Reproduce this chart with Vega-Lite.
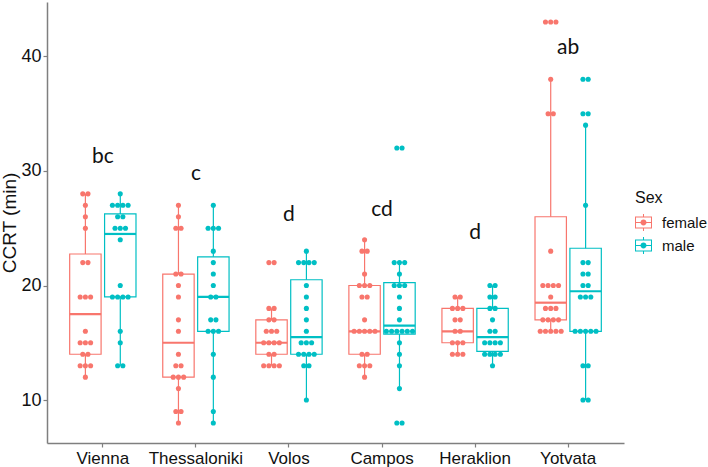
{
  "$schema": "https://vega.github.io/schema/vega-lite/v6.json",
  "width": 577,
  "height": 441,
  "autosize": {"type": "none"},
  "padding": {"left": 47, "top": 2, "right": 84, "bottom": 24},
  "config": {
    "font": "Liberation Sans",
    "view": {"stroke": null},
    "axis": {"grid": false, "domainColor": "#7f7f7f", "domainWidth": 1.5, "tickColor": "#7f7f7f", "tickSize": 4, "tickWidth": 1.2, "labelColor": "#111111", "labelFontSize": 17, "titleColor": "#111111", "titleFontWeight": "normal"},
    "legend": {"orient": "none", "legendX": 588, "legendY": 188, "titleFontSize": 16, "titleFontWeight": "normal", "titleColor": "#111111", "labelFontSize": 15, "labelColor": "#111111", "titlePadding": 8, "rowPadding": 6, "labelOffset": 10, "symbolSize": 289, "symbolStrokeWidth": 0, "symbolOpacity": 1}
  },
  "datasets": {
    "letters": [
      {"loc": "Vienna", "letter": "bc", "ccrt": 30.7},
      {"loc": "Thessaloniki", "letter": "c", "ccrt": 29.2},
      {"loc": "Volos", "letter": "d", "ccrt": 25.6},
      {"loc": "Campos", "letter": "cd", "ccrt": 26.1},
      {"loc": "Heraklion", "letter": "d", "ccrt": 24.1},
      {"loc": "Yotvata", "letter": "ab", "ccrt": 40.2}
    ]
  },
  "data": {"values": [
    {"loc":"Vienna","sex":"female","ccrt":12},{"loc":"Vienna","sex":"female","ccrt":13},{"loc":"Vienna","sex":"female","ccrt":13},{"loc":"Vienna","sex":"female","ccrt":13},{"loc":"Vienna","sex":"female","ccrt":14},{"loc":"Vienna","sex":"female","ccrt":14},{"loc":"Vienna","sex":"female","ccrt":15},{"loc":"Vienna","sex":"female","ccrt":15},{"loc":"Vienna","sex":"female","ccrt":15},{"loc":"Vienna","sex":"female","ccrt":16},{"loc":"Vienna","sex":"female","ccrt":19},{"loc":"Vienna","sex":"female","ccrt":19},{"loc":"Vienna","sex":"female","ccrt":19},{"loc":"Vienna","sex":"female","ccrt":22},{"loc":"Vienna","sex":"female","ccrt":22},{"loc":"Vienna","sex":"female","ccrt":25},{"loc":"Vienna","sex":"female","ccrt":26},{"loc":"Vienna","sex":"female","ccrt":27},{"loc":"Vienna","sex":"female","ccrt":28},{"loc":"Vienna","sex":"female","ccrt":28},
    {"loc":"Vienna","sex":"male","ccrt":13},{"loc":"Vienna","sex":"male","ccrt":13},{"loc":"Vienna","sex":"male","ccrt":15},{"loc":"Vienna","sex":"male","ccrt":16},{"loc":"Vienna","sex":"male","ccrt":19},{"loc":"Vienna","sex":"male","ccrt":19},{"loc":"Vienna","sex":"male","ccrt":19},{"loc":"Vienna","sex":"male","ccrt":19},{"loc":"Vienna","sex":"male","ccrt":20},{"loc":"Vienna","sex":"male","ccrt":24},{"loc":"Vienna","sex":"male","ccrt":25},{"loc":"Vienna","sex":"male","ccrt":25},{"loc":"Vienna","sex":"male","ccrt":25},{"loc":"Vienna","sex":"male","ccrt":26},{"loc":"Vienna","sex":"male","ccrt":26},{"loc":"Vienna","sex":"male","ccrt":27},{"loc":"Vienna","sex":"male","ccrt":27},{"loc":"Vienna","sex":"male","ccrt":27},{"loc":"Vienna","sex":"male","ccrt":27},{"loc":"Vienna","sex":"male","ccrt":28},
    {"loc":"Thessaloniki","sex":"female","ccrt":8},{"loc":"Thessaloniki","sex":"female","ccrt":9},{"loc":"Thessaloniki","sex":"female","ccrt":9},{"loc":"Thessaloniki","sex":"female","ccrt":11},{"loc":"Thessaloniki","sex":"female","ccrt":12},{"loc":"Thessaloniki","sex":"female","ccrt":12},{"loc":"Thessaloniki","sex":"female","ccrt":12},{"loc":"Thessaloniki","sex":"female","ccrt":13},{"loc":"Thessaloniki","sex":"female","ccrt":13},{"loc":"Thessaloniki","sex":"female","ccrt":14},{"loc":"Thessaloniki","sex":"female","ccrt":16},{"loc":"Thessaloniki","sex":"female","ccrt":17},{"loc":"Thessaloniki","sex":"female","ccrt":19},{"loc":"Thessaloniki","sex":"female","ccrt":20},{"loc":"Thessaloniki","sex":"female","ccrt":21},{"loc":"Thessaloniki","sex":"female","ccrt":21},{"loc":"Thessaloniki","sex":"female","ccrt":25},{"loc":"Thessaloniki","sex":"female","ccrt":25},{"loc":"Thessaloniki","sex":"female","ccrt":26},{"loc":"Thessaloniki","sex":"female","ccrt":27},
    {"loc":"Thessaloniki","sex":"male","ccrt":8},{"loc":"Thessaloniki","sex":"male","ccrt":9},{"loc":"Thessaloniki","sex":"male","ccrt":12},{"loc":"Thessaloniki","sex":"male","ccrt":14},{"loc":"Thessaloniki","sex":"male","ccrt":16},{"loc":"Thessaloniki","sex":"male","ccrt":16},{"loc":"Thessaloniki","sex":"male","ccrt":16},{"loc":"Thessaloniki","sex":"male","ccrt":17},{"loc":"Thessaloniki","sex":"male","ccrt":17},{"loc":"Thessaloniki","sex":"male","ccrt":19},{"loc":"Thessaloniki","sex":"male","ccrt":19},{"loc":"Thessaloniki","sex":"male","ccrt":20},{"loc":"Thessaloniki","sex":"male","ccrt":21},{"loc":"Thessaloniki","sex":"male","ccrt":22},{"loc":"Thessaloniki","sex":"male","ccrt":23},{"loc":"Thessaloniki","sex":"male","ccrt":25},{"loc":"Thessaloniki","sex":"male","ccrt":25},{"loc":"Thessaloniki","sex":"male","ccrt":25},{"loc":"Thessaloniki","sex":"male","ccrt":27},
    {"loc":"Volos","sex":"female","ccrt":13},{"loc":"Volos","sex":"female","ccrt":13},{"loc":"Volos","sex":"female","ccrt":13},{"loc":"Volos","sex":"female","ccrt":13},{"loc":"Volos","sex":"female","ccrt":14},{"loc":"Volos","sex":"female","ccrt":14},{"loc":"Volos","sex":"female","ccrt":15},{"loc":"Volos","sex":"female","ccrt":15},{"loc":"Volos","sex":"female","ccrt":15},{"loc":"Volos","sex":"female","ccrt":15},{"loc":"Volos","sex":"female","ccrt":16},{"loc":"Volos","sex":"female","ccrt":16},{"loc":"Volos","sex":"female","ccrt":16},{"loc":"Volos","sex":"female","ccrt":17},{"loc":"Volos","sex":"female","ccrt":17},{"loc":"Volos","sex":"female","ccrt":18},{"loc":"Volos","sex":"female","ccrt":18},{"loc":"Volos","sex":"female","ccrt":22},{"loc":"Volos","sex":"female","ccrt":22},
    {"loc":"Volos","sex":"male","ccrt":10},{"loc":"Volos","sex":"male","ccrt":13},{"loc":"Volos","sex":"male","ccrt":13},{"loc":"Volos","sex":"male","ccrt":14},{"loc":"Volos","sex":"male","ccrt":14},{"loc":"Volos","sex":"male","ccrt":14},{"loc":"Volos","sex":"male","ccrt":14},{"loc":"Volos","sex":"male","ccrt":15},{"loc":"Volos","sex":"male","ccrt":15},{"loc":"Volos","sex":"male","ccrt":15},{"loc":"Volos","sex":"male","ccrt":16},{"loc":"Volos","sex":"male","ccrt":17},{"loc":"Volos","sex":"male","ccrt":18},{"loc":"Volos","sex":"male","ccrt":19},{"loc":"Volos","sex":"male","ccrt":20},{"loc":"Volos","sex":"male","ccrt":22},{"loc":"Volos","sex":"male","ccrt":22},{"loc":"Volos","sex":"male","ccrt":22},{"loc":"Volos","sex":"male","ccrt":22},{"loc":"Volos","sex":"male","ccrt":23},
    {"loc":"Campos","sex":"female","ccrt":12},{"loc":"Campos","sex":"female","ccrt":13},{"loc":"Campos","sex":"female","ccrt":13},{"loc":"Campos","sex":"female","ccrt":13},{"loc":"Campos","sex":"female","ccrt":14},{"loc":"Campos","sex":"female","ccrt":14},{"loc":"Campos","sex":"female","ccrt":16},{"loc":"Campos","sex":"female","ccrt":16},{"loc":"Campos","sex":"female","ccrt":16},{"loc":"Campos","sex":"female","ccrt":16},{"loc":"Campos","sex":"female","ccrt":16},{"loc":"Campos","sex":"female","ccrt":17},{"loc":"Campos","sex":"female","ccrt":19},{"loc":"Campos","sex":"female","ccrt":19},{"loc":"Campos","sex":"female","ccrt":20},{"loc":"Campos","sex":"female","ccrt":20},{"loc":"Campos","sex":"female","ccrt":20},{"loc":"Campos","sex":"female","ccrt":21},{"loc":"Campos","sex":"female","ccrt":23},{"loc":"Campos","sex":"female","ccrt":23},{"loc":"Campos","sex":"female","ccrt":24},
    {"loc":"Campos","sex":"male","ccrt":8},{"loc":"Campos","sex":"male","ccrt":8},{"loc":"Campos","sex":"male","ccrt":11},{"loc":"Campos","sex":"male","ccrt":13},{"loc":"Campos","sex":"male","ccrt":14},{"loc":"Campos","sex":"male","ccrt":15},{"loc":"Campos","sex":"male","ccrt":16},{"loc":"Campos","sex":"male","ccrt":16},{"loc":"Campos","sex":"male","ccrt":16},{"loc":"Campos","sex":"male","ccrt":16},{"loc":"Campos","sex":"male","ccrt":16},{"loc":"Campos","sex":"male","ccrt":16},{"loc":"Campos","sex":"male","ccrt":17},{"loc":"Campos","sex":"male","ccrt":18},{"loc":"Campos","sex":"male","ccrt":19},{"loc":"Campos","sex":"male","ccrt":20},{"loc":"Campos","sex":"male","ccrt":20},{"loc":"Campos","sex":"male","ccrt":20},{"loc":"Campos","sex":"male","ccrt":21},{"loc":"Campos","sex":"male","ccrt":22},{"loc":"Campos","sex":"male","ccrt":22},{"loc":"Campos","sex":"male","ccrt":22},{"loc":"Campos","sex":"male","ccrt":32},{"loc":"Campos","sex":"male","ccrt":32},
    {"loc":"Heraklion","sex":"female","ccrt":14},{"loc":"Heraklion","sex":"female","ccrt":14},{"loc":"Heraklion","sex":"female","ccrt":14},{"loc":"Heraklion","sex":"female","ccrt":15},{"loc":"Heraklion","sex":"female","ccrt":15},{"loc":"Heraklion","sex":"female","ccrt":15},{"loc":"Heraklion","sex":"female","ccrt":16},{"loc":"Heraklion","sex":"female","ccrt":16},{"loc":"Heraklion","sex":"female","ccrt":17},{"loc":"Heraklion","sex":"female","ccrt":17},{"loc":"Heraklion","sex":"female","ccrt":18},{"loc":"Heraklion","sex":"female","ccrt":18},{"loc":"Heraklion","sex":"female","ccrt":18},{"loc":"Heraklion","sex":"female","ccrt":19},{"loc":"Heraklion","sex":"female","ccrt":19},
    {"loc":"Heraklion","sex":"male","ccrt":13},{"loc":"Heraklion","sex":"male","ccrt":14},{"loc":"Heraklion","sex":"male","ccrt":14},{"loc":"Heraklion","sex":"male","ccrt":14},{"loc":"Heraklion","sex":"male","ccrt":14},{"loc":"Heraklion","sex":"male","ccrt":15},{"loc":"Heraklion","sex":"male","ccrt":15},{"loc":"Heraklion","sex":"male","ccrt":15},{"loc":"Heraklion","sex":"male","ccrt":15},{"loc":"Heraklion","sex":"male","ccrt":16},{"loc":"Heraklion","sex":"male","ccrt":16},{"loc":"Heraklion","sex":"male","ccrt":17},{"loc":"Heraklion","sex":"male","ccrt":18},{"loc":"Heraklion","sex":"male","ccrt":18},{"loc":"Heraklion","sex":"male","ccrt":19},{"loc":"Heraklion","sex":"male","ccrt":19},{"loc":"Heraklion","sex":"male","ccrt":20},{"loc":"Heraklion","sex":"male","ccrt":20},
    {"loc":"Yotvata","sex":"female","ccrt":16},{"loc":"Yotvata","sex":"female","ccrt":16},{"loc":"Yotvata","sex":"female","ccrt":16},{"loc":"Yotvata","sex":"female","ccrt":16},{"loc":"Yotvata","sex":"female","ccrt":16},{"loc":"Yotvata","sex":"female","ccrt":17},{"loc":"Yotvata","sex":"female","ccrt":17},{"loc":"Yotvata","sex":"female","ccrt":17},{"loc":"Yotvata","sex":"female","ccrt":17},{"loc":"Yotvata","sex":"female","ccrt":18},{"loc":"Yotvata","sex":"female","ccrt":18},{"loc":"Yotvata","sex":"female","ccrt":18},{"loc":"Yotvata","sex":"female","ccrt":19},{"loc":"Yotvata","sex":"female","ccrt":20},{"loc":"Yotvata","sex":"female","ccrt":20},{"loc":"Yotvata","sex":"female","ccrt":20},{"loc":"Yotvata","sex":"female","ccrt":20},{"loc":"Yotvata","sex":"female","ccrt":23},{"loc":"Yotvata","sex":"female","ccrt":35},{"loc":"Yotvata","sex":"female","ccrt":35},{"loc":"Yotvata","sex":"female","ccrt":38},{"loc":"Yotvata","sex":"female","ccrt":43},{"loc":"Yotvata","sex":"female","ccrt":43},{"loc":"Yotvata","sex":"female","ccrt":43},
    {"loc":"Yotvata","sex":"male","ccrt":10},{"loc":"Yotvata","sex":"male","ccrt":10},{"loc":"Yotvata","sex":"male","ccrt":13},{"loc":"Yotvata","sex":"male","ccrt":13},{"loc":"Yotvata","sex":"male","ccrt":16},{"loc":"Yotvata","sex":"male","ccrt":16},{"loc":"Yotvata","sex":"male","ccrt":16},{"loc":"Yotvata","sex":"male","ccrt":16},{"loc":"Yotvata","sex":"male","ccrt":16},{"loc":"Yotvata","sex":"male","ccrt":19},{"loc":"Yotvata","sex":"male","ccrt":19},{"loc":"Yotvata","sex":"male","ccrt":19},{"loc":"Yotvata","sex":"male","ccrt":20},{"loc":"Yotvata","sex":"male","ccrt":20},{"loc":"Yotvata","sex":"male","ccrt":21},{"loc":"Yotvata","sex":"male","ccrt":21},{"loc":"Yotvata","sex":"male","ccrt":22},{"loc":"Yotvata","sex":"male","ccrt":22},{"loc":"Yotvata","sex":"male","ccrt":27},{"loc":"Yotvata","sex":"male","ccrt":34},{"loc":"Yotvata","sex":"male","ccrt":35},{"loc":"Yotvata","sex":"male","ccrt":35},{"loc":"Yotvata","sex":"male","ccrt":38},{"loc":"Yotvata","sex":"male","ccrt":38}
  ]},
  "resolve": {"scale": {"xOffset": "independent"}},
  "layer": [
    {
      "transform": [
        {"joinaggregate": [{"op": "q1", "field": "ccrt", "as": "q1"}, {"op": "q3", "field": "ccrt", "as": "q3"}, {"op": "median", "field": "ccrt", "as": "med"}], "groupby": ["loc", "sex"]},
        {"calculate": "datum.q3 - datum.q1", "as": "iqr"},
        {"filter": "datum.ccrt >= datum.q1 - 1.5 * datum.iqr && datum.ccrt <= datum.q3 + 1.5 * datum.iqr"},
        {"aggregate": [{"op": "min", "field": "ccrt", "as": "lo"}, {"op": "max", "field": "ccrt", "as": "hi"}, {"op": "max", "field": "q1", "as": "q1"}, {"op": "max", "field": "q3", "as": "q3"}, {"op": "max", "field": "med", "as": "med"}], "groupby": ["loc", "sex"]}
      ],
      "encoding": {
        "x": {"field": "loc", "type": "nominal", "sort": ["Vienna", "Thessaloniki", "Volos", "Campos", "Heraklion", "Yotvata"], "title": null, "scale": {"paddingInner": 0.25, "paddingOuter": 0.225}, "axis": {"labelAngle": 0, "labelPadding": 3}},
        "xOffset": {"field": "sex", "type": "nominal", "scale": {"domain": ["female", "male"], "paddingInner": 0.1, "paddingOuter": 0.05}},
        "color": {"field": "sex", "type": "nominal", "title": "Sex", "scale": {"domain": ["female", "male"], "range": ["#F8766D", "#00BFC4"]},
          "legend": {"symbolType": "M-1,-0.7L1,-0.7L1,0.7L-1,0.7Z M-0.88,-0.58L-0.88,0.58L0.88,0.58L0.88,-0.58Z M-1,-0.07L1,-0.07L1,0.07L-1,0.07Z M0.35,0A0.35,0.35,0,1,1,-0.35,0A0.35,0.35,0,1,1,0.35,0Z M-0.06,-1L0.06,-1L0.06,-0.7L-0.06,-0.7Z M-0.06,0.7L0.06,0.7L0.06,1L-0.06,1Z", "symbolSize": 289, "symbolStrokeWidth": 0, "symbolOpacity": 1}}
      },
      "layer": [
        {"mark": {"type": "rule", "strokeWidth": 1.2}, "encoding": {"y": {"field": "lo", "type": "quantitative", "title": "CCRT (min)", "scale": {"domain": [6.25, 44.75], "nice": false, "zero": false}}, "y2": {"field": "q1"}}},
        {"mark": {"type": "rule", "strokeWidth": 1.2}, "encoding": {"y": {"field": "q3", "type": "quantitative", "title": "CCRT (min)", "scale": {"domain": [6.25, 44.75], "nice": false, "zero": false}}, "y2": {"field": "hi"}}},
        {"mark": {"type": "bar", "filled": false, "strokeWidth": 1.2}, "encoding": {"y": {"field": "q1", "type": "quantitative", "title": "CCRT (min)", "scale": {"domain": [6.25, 44.75], "nice": false, "zero": false}}, "y2": {"field": "q3"}}},
        {"mark": {"type": "tick", "size": 31.4, "thickness": 2.2, "orient": "horizontal", "opacity": 1}, "encoding": {"y": {"field": "med", "type": "quantitative", "title": "CCRT (min)", "scale": {"domain": [6.25, 44.75], "nice": false, "zero": false}}}}
      ]
    },
    {
      "transform": [
        {"window": [{"op": "row_number", "as": "rn"}], "groupby": ["loc", "sex", "ccrt"]},
        {"joinaggregate": [{"op": "count", "as": "cnt"}], "groupby": ["loc", "sex", "ccrt"]},
        {"calculate": "(datum.sex == 'male' ? 0.75 : 0.25) + (datum.rn - (datum.cnt + 1) / 2) * 0.075", "as": "jx"}
      ],
      "mark": {"type": "circle", "size": 26, "opacity": 1},
      "encoding": {
        "x": {"field": "loc", "type": "nominal", "sort": ["Vienna", "Thessaloniki", "Volos", "Campos", "Heraklion", "Yotvata"], "title": null},
        "xOffset": {"field": "jx", "type": "quantitative", "scale": {"domain": [0, 1], "range": [0, 69.75], "zero": false, "nice": false}},
        "y": {"field": "ccrt", "type": "quantitative", "title": "CCRT (min)", "scale": {"domain": [6.25, 44.75], "nice": false, "zero": false}, "axis": {"values": [10, 20, 30, 40], "titleFontSize": 19, "titlePadding": 1, "labelPadding": 2, "labelFontSize": 18}},
        "color": {"field": "sex", "type": "nominal", "title": "Sex", "scale": {"domain": ["female", "male"], "range": ["#F8766D", "#00BFC4"]},
          "legend": {"symbolType": "M-1,-0.7L1,-0.7L1,0.7L-1,0.7Z M-0.88,-0.58L-0.88,0.58L0.88,0.58L0.88,-0.58Z M-1,-0.07L1,-0.07L1,0.07L-1,0.07Z M0.35,0A0.35,0.35,0,1,1,-0.35,0A0.35,0.35,0,1,1,0.35,0Z M-0.06,-1L0.06,-1L0.06,-0.7L-0.06,-0.7Z M-0.06,0.7L0.06,0.7L0.06,1L-0.06,1Z", "symbolSize": 289, "symbolStrokeWidth": 0, "symbolOpacity": 1}}
      }
    },
    {
      "data": {"name": "letters"},
      "mark": {"type": "text", "font": "Lato", "fontSize": 21, "baseline": "alphabetic", "align": "center", "color": "#111111"},
      "encoding": {
        "x": {"field": "loc", "type": "nominal", "sort": ["Vienna", "Thessaloniki", "Volos", "Campos", "Heraklion", "Yotvata"], "title": null},
        "y": {"field": "ccrt", "type": "quantitative", "title": "CCRT (min)", "scale": {"domain": [6.25, 44.75], "nice": false, "zero": false}},
        "text": {"field": "letter"}
      }
    }
  ]
}
